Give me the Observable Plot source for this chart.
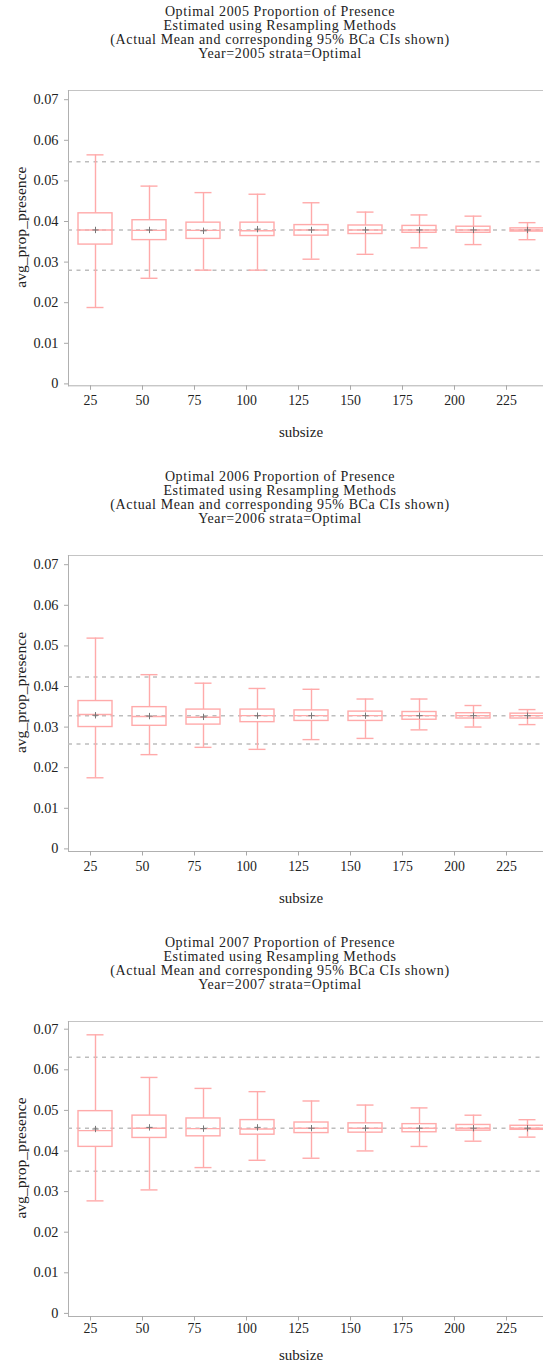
<!DOCTYPE html>
<html><head><meta charset="utf-8">
<script src="https://cdn.jsdelivr.net/npm/d3@7"></script>
<script src="https://cdn.jsdelivr.net/npm/@observablehq/plot@0.6"></script>
<style>
html,body{margin:0;padding:0;background:#fff;overflow:hidden;}
#root{position:relative;width:543px;height:1371px;font-family:"Liberation Serif","Times New Roman",serif;color:#222;}
.t{position:absolute;left:60px;width:440px;text-align:center;font-size:14px;line-height:14px;letter-spacing:0.6px;white-space:nowrap;}
.p{position:absolute;left:0;width:543px;}
.p svg text{font-family:"Liberation Serif","Times New Roman",serif !important;}
</style></head><body><div id="root"></div>
<script>
// ---- data ----
const years = [2005, 2006, 2007];
const subsizes = [25, 50, 75, 100, 125, 150, 175, 200, 225];
const yTicks = [0, 0.01, 0.02, 0.03, 0.04, 0.05, 0.06, 0.07];

const hi2005   = [0.0558, 0.0481, 0.0465, 0.0461, 0.0440, 0.0417, 0.0410, 0.0407, 0.0391];
const q3_2005  = [0.0414, 0.0397, 0.0391, 0.0391, 0.0385, 0.0384, 0.0383, 0.0381, 0.0377];
const med2005  = [0.0373, 0.0372, 0.0372, 0.0371, 0.0373, 0.0373, 0.0373, 0.0373, 0.0373];
const mean2005 = [0.0373, 0.0373, 0.0371, 0.0375, 0.0373, 0.0373, 0.0373, 0.0373, 0.0373];
const q1_2005  = [0.0337, 0.0348, 0.0351, 0.0358, 0.0359, 0.0363, 0.0366, 0.0366, 0.0369];
const lo2005   = [0.0182, 0.0254, 0.0274, 0.0274, 0.0301, 0.0313, 0.0329, 0.0337, 0.0349];
const ref2005  = [0.0274, 0.0373, 0.0541];

const hi2006   = [0.0513, 0.0423, 0.0402, 0.0389, 0.0387, 0.0363, 0.0363, 0.0347, 0.0337];
const q3_2006  = [0.0358, 0.0343, 0.0337, 0.0337, 0.0335, 0.0332, 0.0331, 0.0328, 0.0327];
const med2006  = [0.0325, 0.0320, 0.0318, 0.0322, 0.0322, 0.0322, 0.0322, 0.0322, 0.0322];
const mean2006 = [0.0323, 0.0321, 0.0319, 0.0322, 0.0322, 0.0322, 0.0322, 0.0322, 0.0322];
const q1_2006  = [0.0294, 0.0297, 0.0300, 0.0306, 0.0309, 0.0309, 0.0312, 0.0315, 0.0315];
const lo2006   = [0.0169, 0.0226, 0.0244, 0.0239, 0.0263, 0.0266, 0.0287, 0.0294, 0.0300];
const ref2006  = [0.0252, 0.0322, 0.0417];

const hi2007   = [0.0680, 0.0575, 0.0548, 0.0540, 0.0517, 0.0507, 0.0500, 0.0482, 0.0471];
const q3_2007  = [0.0492, 0.0481, 0.0474, 0.0470, 0.0464, 0.0462, 0.0460, 0.0458, 0.0456];
const med2007  = [0.0444, 0.0450, 0.0449, 0.0448, 0.0450, 0.0450, 0.0450, 0.0450, 0.0450];
const mean2007 = [0.0448, 0.0452, 0.0449, 0.0452, 0.0450, 0.0450, 0.0450, 0.0450, 0.0450];
const q1_2007  = [0.0404, 0.0426, 0.0430, 0.0434, 0.0438, 0.0439, 0.0440, 0.0444, 0.0446];
const lo2007   = [0.0271, 0.0298, 0.0353, 0.0371, 0.0376, 0.0394, 0.0405, 0.0418, 0.0428];
const ref2007  = [0.0344, 0.0450, 0.0625];

const series = [
  {hi: hi2005, q3: q3_2005, med: med2005, mean: mean2005, q1: q1_2005, lo: lo2005, ref: ref2005},
  {hi: hi2006, q3: q3_2006, med: med2006, mean: mean2006, q1: q1_2006, lo: lo2006, ref: ref2006},
  {hi: hi2007, q3: q3_2007, med: med2007, mean: mean2007, q1: q1_2007, lo: lo2007, ref: ref2007}
];

// ---- layout (pixel positions of each panel) ----
const layouts = [
  {base: 0,     frameTop: 89.7,  y07: 6.7, y0: 290.9, axis: 295.3, tickPad: 4.5, subsz: 46.5},
  {base: 465,   frameTop: 554.7, y07: 6.7, y0: 290.9, axis: 296.0, tickPad: 5.5, subsz: 47},
  {base: 930.7, frameTop: 1021,  y07: 5.2, y0: 289.4, axis: 295.0, tickPad: 2.5, subsz: 38.5}
];
const W = 543, ML = 68, MT = 6, H = 356;
const PINK = "#ffaaaa";
const FONT = "'Liberation Serif', 'Times New Roman', serif";
const fmt = d => d === 0 ? "0" : d.toFixed(2);
const root = document.getElementById("root");

years.forEach((year, i) => {
  const L = layouts[i], s = series[i];
  const titles = [`Optimal ${year} Proportion of Presence`, "Estimated using Resampling Methods",
    "(Actual Mean and corresponding 95% BCa CIs shown)", `Year=${year} strata=Optimal`];
  const tops = [4.9, 19.2, 33.2, 47.2];
  titles.forEach((t, k) => {
    const d = document.createElement("div");
    d.className = "t"; d.style.top = (L.base + tops[k]) + "px"; d.textContent = t;
    root.appendChild(d);
  });

  const rows = subsizes.map((x, j) => ({subsize: x, hi: s.hi[j], q3: s.q3[j], median: s.med[j], mean: s.mean[j], q1: s.q1[j], lo: s.lo[j]}));
  const mb = H - (L.axis + MT);
  const yScale = {domain: [0, 0.07], range: [L.y0 + MT, L.y07 + MT], axis: null};

  const axes = Plot.plot({
    width: W, height: H, marginTop: MT, marginLeft: ML, marginRight: 0, marginBottom: mb,
    style: {fontFamily: FONT, fontSize: "14px", background: "transparent", color: "#222"},
    x: {type: "point", domain: subsizes, range: [88.3, 508], padding: 0, axis: null},
    y: yScale,
    marks: [
      Plot.frame({anchor: "top", stroke: "#c4c4c4", strokeWidth: 1.2}),
      Plot.frame({anchor: "left", stroke: "#b0b0b0"}),
      Plot.frame({anchor: "bottom", stroke: "#b0b0b0"}),
      Plot.ruleY(s.ref, {stroke: "#bdbdbd", strokeWidth: 1.5, strokeDasharray: "4,4.5"}),
      Plot.axisY(yTicks, {anchor: "left", tickSize: 4, tickPadding: 6, stroke: "#a8a8a8", fill: "#222", fontSize: 14.3, fontFamily: FONT, tickFormat: fmt, label: null, dy: 2.5}),
      Plot.axisX(subsizes, {anchor: "bottom", tickSize: 4.5, tickPadding: L.tickPad, stroke: "#a8a8a8", fill: "#222", fontSize: 13.8, fontFamily: FONT, label: null}),
      Plot.text(["subsize"], {text: d => d, frameAnchor: "bottom", textAnchor: "middle", lineAnchor: "middle", dy: L.subsz, dx: -5, fontSize: 15, fontFamily: FONT, fill: "#222"}),
      Plot.text(["avg_prop_presence"], {text: d => d, frameAnchor: "left", textAnchor: "middle", lineAnchor: "middle", rotate: -90, dx: -48, dy: -11, fontSize: 15.6, fontFamily: FONT, fill: "#222"})
    ]
  });

  const boxes = Plot.plot({
    width: W, height: H, marginTop: MT, marginLeft: ML, marginRight: 0, marginBottom: mb,
    style: {background: "transparent"},
    x: {type: "band", domain: subsizes, range: [64.67, 556.6], paddingInner: 0.378, paddingOuter: 0.189, axis: null},
    y: yScale,
    marks: [
      Plot.ruleX(rows, {x: "subsize", y1: "lo", y2: "q1", stroke: PINK, strokeWidth: 1.4}),
      Plot.ruleX(rows, {x: "subsize", y1: "q3", y2: "hi", stroke: PINK, strokeWidth: 1.4}),
      Plot.tickY(rows, {x: "subsize", y: "lo", insetLeft: 8.5, insetRight: 8.5, stroke: PINK, strokeWidth: 1.4}),
      Plot.tickY(rows, {x: "subsize", y: "hi", insetLeft: 8.5, insetRight: 8.5, stroke: PINK, strokeWidth: 1.4}),
      Plot.barY(rows, {x: "subsize", y1: "q1", y2: "q3", fill: "none", stroke: PINK, strokeWidth: 1.4}),
      Plot.tickY(rows, {x: "subsize", y: "median", stroke: PINK, strokeWidth: 1.4}),
      Plot.dot(rows, {x: "subsize", y: "mean", symbol: "plus", r: 2.2, stroke: "#777", strokeWidth: 1})
    ]
  });

  [axes, boxes].forEach(svg => {
    const d = document.createElement("div");
    d.className = "p"; d.style.top = (L.frameTop - MT) + "px";
    d.appendChild(svg);
    root.appendChild(d);
  });
});
</script>
</body></html>
